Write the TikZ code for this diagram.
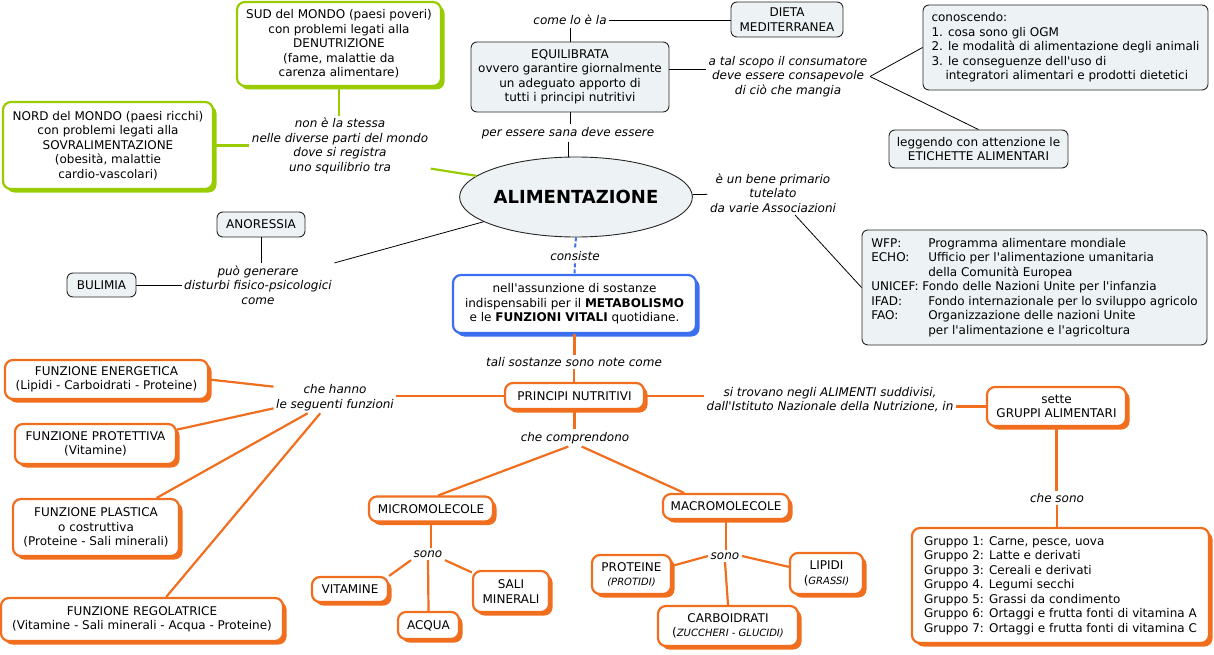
\documentclass[tikz,border=0pt]{standalone}
\usepackage{fontspec}
\setmainfont{DejaVu Sans}
\usetikzlibrary{shapes.geometric, shadows}
\definecolor{boxfill}{RGB}{237,242,244}
\definecolor{greenline}{RGB}{153,204,0}
\definecolor{orangeline}{RGB}{240,110,30}
\definecolor{blueline}{RGB}{60,110,240}
\newcommand{\apos}{\textquotesingle}

\begin{document}
\begin{tikzpicture}[
    x=1pt, y=-1pt,
    font=\fontsize{12}{14.5}\selectfont,
    concept/.style={rectangle, draw=black!85, fill=boxfill, rounded corners=6pt, line width=0.9pt, align=center, inner sep=2pt},
    shadowbox/.style={rectangle, draw=#1, fill=white, rounded corners=8pt, line width=2.2pt, align=center, inner sep=2pt,
        drop shadow={shadow xshift=3.5pt, shadow yshift=-3.5pt, fill=#1, opacity=1}},
    greenbox/.style={shadowbox=greenline},
    orangebox/.style={shadowbox=orangeline},
    bluebox/.style={shadowbox=blueline},
    phrase/.style={font=\fontsize{12}{14.5}\selectfont\itshape, align=center, inner sep=2.5pt},
    conn/.style={draw=black, line width=0.8pt},
    gline/.style={draw=greenline, line width=2.2pt},
    oline/.style={draw=orangeline, line width=2.2pt},
    bline/.style={draw=blueline, line width=2pt, dash pattern=on 4pt off 2pt}
]
\useasboundingbox (0,0) rectangle (1214,655);

\node[ellipse, draw=black!85, fill=boxfill, line width=0.9pt, minimum width=199, minimum height=80, inner sep=0pt,
      font=\fontsize{18}{20}\selectfont\bfseries] (alim) at (576,197) {ALIMENTAZIONE};

\node[greenbox, minimum width=204, minimum height=84] (sud) at (339,44) {SUD del MONDO (paesi poveri)\\con problemi legati alla\\DENUTRIZIONE\\(fame, malattie da\\carenza alimentare)};
\node[greenbox, minimum width=210, minimum height=87] (nord) at (108,145.5) {NORD del MONDO (paesi ricchi)\\con problemi legati alla\\SOVRALIMENTAZIONE\\(obesità, malattie\\cardio-vascolari)};
\node[phrase] (squil) at (340,146) {non è la stessa\\nelle diverse parti del mondo\\dove si registra\\uno squilibrio tra};

\node[concept, minimum width=112, minimum height=35] (dieta) at (787,19.5) {DIETA\\MEDITERRANEA};
\node[phrase] (come) at (570,20) {come lo è la};
\node[concept, minimum width=198, minimum height=70] (equil) at (570,77) {EQUILIBRATA\\ovvero garantire giornalmente\\un adeguato apporto di\\tutti i principi nutritivi};
\node[phrase] (sana) at (568,133) {per essere sana deve essere};
\node[phrase] (tal) at (788,76.5) {a tal scopo il consumatore\\deve essere consapevole\\di ciò che mangia};
\node[concept, align=left, minimum width=285, minimum height=85] (cono) at (1065.5,47.5) {conoscendo:\\1. cosa sono gli OGM\\2. le modalità di alimentazione degli animali\\3. le conseguenze dell\apos uso di\\\hspace*{14pt}integratori alimentari e prodotti dietetici};
\node[concept, minimum width=179, minimum height=38] (etich) at (978.5,149) {leggendo con attenzione le\\ETICHETTE ALIMENTARI};

\node[phrase] (bene) at (773,193) {è un bene primario\\tutelato\\da varie Associazioni};
\node[concept, align=left, minimum width=345, minimum height=115] (wfp) at (1034.5,287.5) {\makebox[57pt][l]{WFP:}Programma alimentare mondiale\\\makebox[57pt][l]{ECHO:}Ufficio per l\apos alimentazione umanitaria\\\hspace*{57pt}della Comunità Europea\\UNICEF: Fondo delle Nazioni Unite per l\apos infanzia\\\makebox[57pt][l]{IFAD:}Fondo internazionale per lo sviluppo agricolo\\\makebox[57pt][l]{FAO:}Organizzazione delle nazioni Unite\\\hspace*{57pt}per l\apos alimentazione e l\apos agricoltura};

\node[concept, minimum width=88, minimum height=25] (anor) at (261,224.5) {ANORESSIA};
\node[concept, minimum width=69, minimum height=24] (bul) at (101.5,285) {BULIMIA};
\node[phrase] (puo) at (258,285) {può generare\\disturbi fisico-psicologici\\come};

\node[phrase] (cons) at (575,256) {consiste};
\node[bluebox, minimum width=243, minimum height=58] (metab) at (574.5,304) {nell\apos assunzione di sostanze\\indispensabili per il \textbf{METABOLISMO}\\e le \textbf{FUNZIONI VITALI} quotidiane.};
\node[phrase] (tali) at (574,362) {tali sostanze sono note come};
\node[orangebox, minimum width=139, minimum height=26] (princ) at (574.5,396) {PRINCIPI NUTRITIVI};

\node[phrase] (hanno) at (335,397.5) {che hanno\\le seguenti funzioni};
\node[orangebox, minimum width=203, minimum height=39] (energ) at (106.5,379.5) {FUNZIONE ENERGETICA\\(Lipidi - Carboidrati - Proteine)};
\node[orangebox, minimum width=161, minimum height=40] (prot) at (95.5,444) {FUNZIONE PROTETTIVA\\(Vitamine)};
\node[orangebox, minimum width=166, minimum height=57] (plast) at (96,527.5) {FUNZIONE PLASTICA\\o costruttiva\\(Proteine - Sali minerali)};
\node[orangebox, minimum width=282, minimum height=43] (regol) at (142,619.5) {FUNZIONE REGOLATRICE\\(Vitamine - Sali minerali - Acqua - Proteine)};

\node[phrase] (compr) at (575,438) {che comprendono};
\node[orangebox, minimum width=124, minimum height=25] (micro) at (431,509) {MICROMOLECOLE};
\node[phrase] (sono1) at (428,554) {sono};
\node[orangebox, minimum width=76, minimum height=25] (vit) at (350,589.5) {VITAMINE};
\node[orangebox, minimum width=61, minimum height=27] (acqua) at (428.5,625.5) {ACQUA};
\node[orangebox, minimum width=76, minimum height=41] (sali) at (511,591.5) {SALI\\MINERALI};

\node[orangebox, minimum width=126, minimum height=25] (macro) at (726,506.5) {MACROMOLECOLE};
\node[phrase] (sono2) at (725,556) {sono};
\node[orangebox, minimum width=79, minimum height=39] (prot2) at (631.5,574.5) {PROTEINE\\{\fontsize{10}{12}\selectfont\itshape (PROTIDI)}};
\node[orangebox, minimum width=73, minimum height=41] (lip) at (826.5,573.5) {LIPIDI\\({\fontsize{10}{12}\selectfont\itshape GRASSI)}};
\node[orangebox, minimum width=140, minimum height=40] (carbo) at (728,626) {CARBOIDRATI\\({\fontsize{10}{12}\selectfont\itshape ZUCCHERI - GLUCIDI)}};

\node[phrase] (trov) at (830,399.5) {si trovano negli ALIMENTI suddivisi,\\dall\apos Istituto Nazionale della Nutrizione, in};
\node[orangebox, minimum width=139, minimum height=39] (grup) at (1056.5,406.5) {sette\\GRUPPI ALIMENTARI};
\node[phrase] (chesono) at (1057,498) {che sono};
\node[orangebox, align=left, minimum width=297, minimum height=115] (gruppi) at (1060.5,585.5) {Gruppo 1: Carne, pesce, uova\\Gruppo 2: Latte e derivati\\Gruppo 3: Cereali e derivati\\Gruppo 4. Legumi secchi\\Gruppo 5: Grassi da condimento\\Gruppo 6: Ortaggi e frutta fonti di vitamina A\\Gruppo 7: Ortaggi e frutta fonti di vitamina C};

\draw[gline] (sud.south) -- (sud.south |- squil.north);
\draw[gline] (nord.east) -- (nord.east -| squil.west);
\draw[gline] (squil.-14) -- (alim.168);

\draw[conn] (equil.north) -- (equil.north |- come.south);
\draw[conn] (come.east) -- (come.east -| dieta.west);
\draw[conn] (equil.south) -- (equil.south |- sana.north);
\draw[conn] (sana.south) -- (sana.south |- alim.north);
\draw[conn] (tal.175) -- (tal.175 -| equil.east);
\draw[conn] (tal.east) -- (cono.west);
\draw[conn] (tal.east) -- (etich.north);

\draw[conn] (alim) -- (bene);
\draw[conn] (bene.-45) -- (wfp.west);

\draw[conn] (anor.south) -- (anor.south |- puo.north);
\draw[conn] (bul.east) -- (bul.east -| puo.west);
\draw[conn] (puo.north east) -- (alim.195);

\draw[bline] (alim.south) -- (cons.north);
\draw[bline] (cons.south) -- (metab.north);

\draw[oline] (metab.south) -- (metab.south |- tali.north);
\draw[oline] (tali.south) -- (tali.south |- princ.north);
\draw[oline] (princ.west) -- (princ.west -| hanno.east);
\draw[oline] (hanno.170) -- (energ.east);
\draw[oline] (hanno.190) -- (prot.10);
\draw[oline] (hanno.-150) -- (plast.26);
\draw[oline] (hanno.-133) -- (regol.43);

\draw[oline] (princ.south) -- (princ.south |- compr.north);
\draw[oline] (compr.-128) -- (micro.62);
\draw[oline] (compr.-52) -- (macro.162);
\draw[oline] (micro.south) -- (micro.south |- sono1.north);
\draw[oline] (sono1.south west) -- (vit.north east);
\draw[oline] (sono1.south) -- (acqua.north);
\draw[oline] (sono1.south east) -- (sali.154);
\draw[oline] (macro.south) -- (macro.south |- sono2.north);
\draw[oline] (sono2.west) -- (prot2.12);
\draw[oline] (sono2.east) -- (lip.170);
\draw[oline] (sono2.south) -- (carbo.north);

\draw[oline] (princ.east) -- (princ.east -| trov.west);
\draw[oline] (grup.west) -- (grup.west -| trov.east);
\draw[oline] (grup.south) -- (grup.south |- chesono.north);
\draw[oline] (chesono.south) -- (chesono.south |- gruppi.north);

\end{tikzpicture}
\end{document}
